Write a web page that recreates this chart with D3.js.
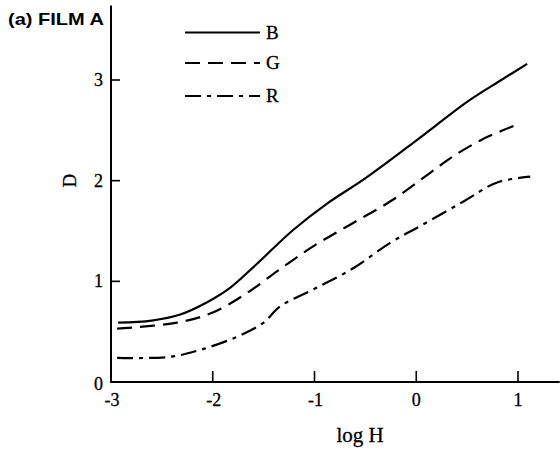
<!DOCTYPE html>
<html>
<head>
<meta charset="utf-8">
<script src="https://cdn.jsdelivr.net/npm/d3@7/dist/d3.min.js"></script>
<style>
  html, body { margin: 0; padding: 0; background: #fff; }
  svg { display: block; }
</style>
</head>
<body>
<svg id="chart" width="560" height="452"></svg>
<script>
// ---- data ----
const seriesNames = ["B", "G", "R"];
const xTicks = [-3, -2, -1, 0, 1];
const xTickLabels = ["-3", "-2", "-1", "0", "1"];
const yTicks = [0, 1, 2, 3];
const yTickLabels = ["0", "1", "2", "3"];

const logH_B = [-2.93, -2.6, -2.32, -2.06, -1.83, -1.57, -1.21, -0.88, -0.52, -0.09, 0.17, 0.51, 0.82, 1.09];
const D_B    = [0.59, 0.61, 0.67, 0.79, 0.935, 1.17, 1.51, 1.77, 2.01, 2.33, 2.53, 2.79, 2.99, 3.16];

const logH_G = [-2.94, -2.35, -2.0, -1.67, -1.34, -1.01, -0.62, -0.23, 0.14, 0.36, 0.63, 0.85, 1.0];
const D_G    = [0.53, 0.59, 0.69, 0.88, 1.12, 1.35, 1.58, 1.81, 2.08, 2.24, 2.40, 2.50, 2.56];

const logH_R = [-2.94, -2.42, -2.12, -1.76, -1.50, -1.34, -1.01, -0.62, -0.26, 0.04, 0.46, 0.79, 1.12];
const D_R    = [0.24, 0.25, 0.32, 0.45, 0.59, 0.75, 0.92, 1.13, 1.38, 1.55, 1.79, 1.98, 2.04];

const xLabel = "log H";
const yLabel = "D";
const title = "(a) FILM A";

// ---- layout ----
const svg = d3.select("#chart");
const x = d3.scaleLinear().domain([-3, 1]).range([111, 518]);
const y = d3.scaleLinear().domain([0, 3]).range([382, 80]);
const xMaxAxis = 1.41, yMaxAxis = 3.74;
const serif = "'Liberation Serif', 'Times New Roman', serif";

const series = [
  { name: "B", xs: logH_B, ys: D_B, dash: null },
  { name: "G", xs: logH_G, ys: D_G, dash: "15,8" },
  { name: "R", xs: logH_R, ys: D_R, dash: "16,6,4,6" }
];

// axes lines
svg.append("line")
  .attr("x1", x(-3)).attr("x2", x(-3))
  .attr("y1", y(0) + 1).attr("y2", y(yMaxAxis))
  .attr("stroke", "#000").attr("stroke-width", 2);
svg.append("line")
  .attr("x1", x(-3) - 1).attr("x2", x(xMaxAxis))
  .attr("y1", y(0)).attr("y2", y(0))
  .attr("stroke", "#000").attr("stroke-width", 2);

// x ticks (inward, upward)
svg.selectAll(".xt").data(xTicks.slice(1)).enter().append("line")
  .attr("x1", d => x(d)).attr("x2", d => x(d))
  .attr("y1", y(0)).attr("y2", y(0) - 11)
  .attr("stroke", "#000").attr("stroke-width", 1.6);
svg.selectAll(".xl").data(xTicks).enter().append("text")
  .attr("x", d => x(d) + (d < 0 ? 1 : 0)).attr("y", y(0) + 24)
  .attr("text-anchor", "middle")
  .attr("font-family", serif).attr("font-size", 18)
  .attr("stroke", "#000").attr("stroke-width", 0.3)
  .text((d, i) => xTickLabels[i]);

// y ticks (inward, right)
svg.selectAll(".yt").data(yTicks.slice(1)).enter().append("line")
  .attr("x1", x(-3)).attr("x2", x(-3) + 9)
  .attr("y1", d => y(d)).attr("y2", d => y(d))
  .attr("stroke", "#000").attr("stroke-width", 1.6);
svg.selectAll(".yl").data(yTicks).enter().append("text")
  .attr("x", x(-3) - 8).attr("y", d => y(d) + 6 + (d === 0 ? 2 : 0))
  .attr("text-anchor", "end")
  .attr("font-family", serif).attr("font-size", 18)
  .attr("stroke", "#000").attr("stroke-width", 0.3)
  .text((d, i) => yTickLabels[i]);

// axis labels
svg.append("text")
  .attr("x", 360).attr("y", 442)
  .attr("text-anchor", "middle")
  .attr("font-family", serif).attr("font-size", 21)
  .attr("stroke", "#000").attr("stroke-width", 0.3)
  .text(xLabel);
svg.append("text")
  .attr("transform", `translate(76, ${y(2)}) rotate(-90)`)
  .attr("text-anchor", "middle")
  .attr("font-family", serif).attr("font-size", 19)
  .attr("stroke", "#000").attr("stroke-width", 0.3)
  .text(yLabel);

// title
svg.append("text")
  .attr("x", 8).attr("y", 25)
  .attr("font-family", "'Liberation Sans', Arial, sans-serif")
  .attr("font-weight", "bold").attr("font-size", 17)
  .attr("textLength", 96).attr("lengthAdjust", "spacingAndGlyphs")
  .text(title);

// curves
const line = d3.line()
  .x(d => x(d[0])).y(d => y(d[1]))
  .curve(d3.curveCatmullRom.alpha(0.5));
series.forEach(s => {
  const pts = s.xs.map((v, i) => [v, s.ys[i]]);
  svg.append("path")
    .attr("d", line(pts))
    .attr("fill", "none")
    .attr("stroke", "#000")
    .attr("stroke-width", 2.2)
    .attr("stroke-dasharray", s.dash);
});

// legend
const legY = [32.5, 63, 96];
series.forEach((s, i) => {
  svg.append("line")
    .attr("x1", 185).attr("x2", 260)
    .attr("y1", legY[i]).attr("y2", legY[i])
    .attr("stroke", "#000").attr("stroke-width", 2.2)
    .attr("stroke-dasharray", s.dash);
  svg.append("text")
    .attr("x", 266).attr("y", legY[i] + 6)
    .attr("font-family", serif).attr("font-size", 19)
    .attr("stroke", "#000").attr("stroke-width", 0.3)
    .text(seriesNames[i]);
});
</script>
</body>
</html>
